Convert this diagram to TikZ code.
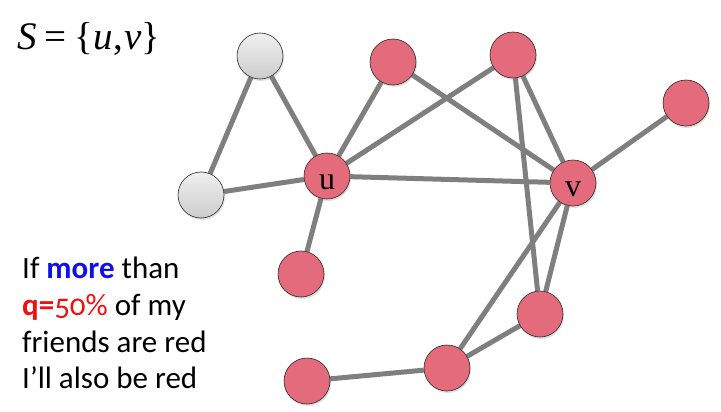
\documentclass[tikz,border=0pt]{standalone}
\usepackage{fontspec}
\setmainfont{Carlito}[Numbers=OldStyle]
\newfontfamily\timesfont{Liberation Serif}
\newfontfamily\timesitfont{Liberation Serif}[UprightFont=*-Italic]
\usetikzlibrary{backgrounds,shadows}
\definecolor{nodered}{HTML}{E46B7C}
\definecolor{edgegray}{HTML}{7F7F7F}
\definecolor{moreblue}{HTML}{1010E8}
\definecolor{qred}{HTML}{F01010}
\newcommand{\setvar}[1]{{\timesitfont #1}}
\begin{document}
\begin{tikzpicture}[x=1pt,y=-1pt,
  vertex/.style={circle,draw=black!85,line width=0.6pt,minimum size=46pt,inner sep=0pt,
    drop shadow={opacity=0.25,shadow xshift=1pt,shadow yshift=-2pt},
    font=\timesfont\fontsize{32}{32}\selectfont,text height=27pt,text depth=0pt},
  rednode/.style={vertex,fill=nodered},
  graynode/.style={vertex,top color=gray!12,bottom color=gray!40},
  edge/.style={draw=edgegray,line width=5pt},
  caption/.style={anchor=base west,inner sep=0pt,font=\fontsize{31}{31}\selectfont}
]
\useasboundingbox (0,0) rectangle (721,412);

% set heading
\node[anchor=base west,inner sep=0pt,font=\timesfont\fontsize{39}{39}\selectfont]
  (set) at (17,50) {\setvar{S}\kern8pt=\kern8pt\{\setvar{u}\kern1pt,\kern1pt\setvar{v}\}};

% vertices
\node[graynode] (g1) at (260,56) {};
\node[graynode] (g2) at (201,195) {};
\node[rednode] (u) at (327,176) {u};
\node[rednode] (a) at (393,62) {};
\node[rednode] (b) at (513,55) {};
\node[rednode] (v) at (573,183) {v};
\node[rednode] (c) at (686,103) {};
\node[rednode] (d) at (301,274) {};
\node[rednode] (e) at (540,314) {};
\node[rednode] (f) at (447,368) {};
\node[rednode] (h) at (307,381) {};

% connectors behind the vertices
\begin{pgfonlayer}{background}
\draw[edge] (g1) -- (g2);
\draw[edge] (g1) -- (u);
\draw[edge] (g2) -- (u);
\draw[edge] (u) -- (a);
\draw[edge] (u) -- (b);
\draw[edge] (u) -- (v);
\draw[edge] (u) -- (d);
\draw[edge] (a) -- (v);
\draw[edge] (b) -- (v);
\draw[edge] (b) -- (e);
\draw[edge] (v) -- (c);
\draw[edge] (v) -- (e);
\draw[edge] (v) -- (f);
\draw[edge] (f) -- (e);
\draw[edge] (f) -- (h);
\end{pgfonlayer}

% rule text
\node[caption] (l1) at (22,278) {If \textcolor{moreblue}{\bfseries more} than};
\node[caption] (l2) at (22,315) {\textcolor{qred}{\bfseries q=}\textcolor{qred}{50\%} of my};
\node[caption] (l3) at (22,352) {friends are red};
\node[caption] (l4) at (22,388) {I’ll also be red};
\end{tikzpicture}
\end{document}
